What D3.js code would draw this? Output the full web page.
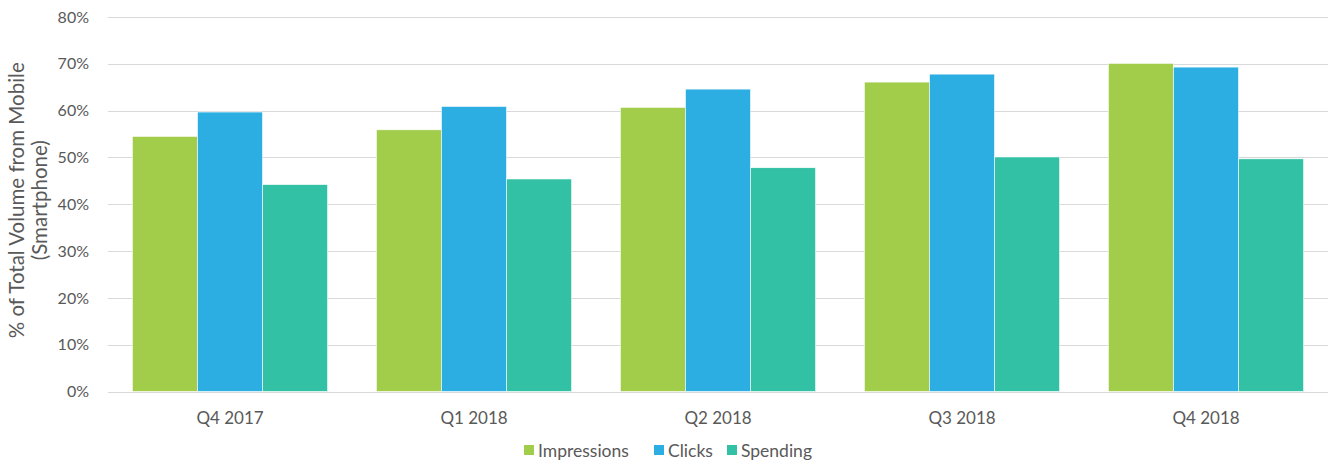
<!DOCTYPE html>
<html>
<head>
  <meta charset="utf-8">
  <script src="https://d3js.org/d3.v7.min.js"></script>
  <style>
    body { margin: 0; background: #fff; }
    * { font-family: 'Lato', sans-serif; }
    .tick text { fill: #595959; font-size: 16px; }
    .x-axis .tick text { font-size: 17px; }
  </style>
</head>
<body>
  <div id="chart"></div>
  <script>
    const quarters = ['Q4 2017', 'Q1 2018', 'Q2 2018', 'Q3 2018', 'Q4 2018'];
    const seriesNames = ['Impressions', 'Clicks', 'Spending'];
    const impressions = [0.545, 0.559, 0.607, 0.661, 0.701];
    const clicks = [0.597, 0.609, 0.646, 0.678, 0.693];
    const spending = [0.442, 0.454, 0.478, 0.501, 0.497];
    const colors = ['#a2cd4a', '#2daee2', '#32c1a4'];
    const yTicks = [0, 0.1, 0.2, 0.3, 0.4, 0.5, 0.6, 0.7, 0.8];

    const width = 1332, height = 462;
    const margin = { top: 17, right: 4, bottom: 70, left: 108 };

    const svg = d3.select('#chart').append('svg')
      .attr('width', width)
      .attr('height', height);

    const x = d3.scaleBand()
      .domain(quarters)
      .range([margin.left, width - margin.right])
      .paddingInner(0.2)
      .paddingOuter(0.1);

    const xs = d3.scaleBand()
      .domain(seriesNames)
      .range([0, x.bandwidth()]);

    const y = d3.scaleLinear()
      .domain([0, 0.8])
      .range([height - margin.bottom - 0.5, margin.top]);

    // gridlines
    svg.append('g')
      .selectAll('line')
      .data(yTicks)
      .join('line')
      .attr('x1', margin.left)
      .attr('x2', width - margin.right)
      .attr('y1', d => Math.round(y(d)) + 0.5)
      .attr('y2', d => Math.round(y(d)) + 0.5)
      .attr('stroke', '#d9d9d9')
      .attr('stroke-width', 1.2);

    const yAxis = svg.append('g')
      .attr('transform', `translate(${margin.left - 16},0)`)
      .call(d3.axisLeft(y).tickValues(yTicks).tickFormat(d3.format('.0%')).tickSize(0));
    yAxis.select('.domain').remove();

    const rows = quarters.map((q, i) => ({ q, vals: [impressions[i], clicks[i], spending[i]] }));

    svg.append('g')
      .selectAll('g')
      .data(rows)
      .join('g')
      .attr('transform', d => `translate(${x(d.q)},0)`)
      .selectAll('rect')
      .data(d => d.vals.map((v, k) => ({ k, v })))
      .join('rect')
      .attr('x', d => xs(seriesNames[d.k]))
      .attr('y', d => y(d.v))
      .attr('width', xs.bandwidth())
      .attr('height', d => y(0) - y(d.v))
      .attr('fill', d => colors[d.k])
      .attr('stroke', '#fff')
      .attr('stroke-width', 0.6);

    const xAxis = svg.append('g')
      .attr('class', 'x-axis')
      .attr('transform', `translate(0,${y(0) + 14})`)
      .call(d3.axisBottom(x).tickSize(0));
    xAxis.select('.domain').remove();
    xAxis.selectAll('text').attr('dy', '0.9em');

    // y axis title
    const title = svg.append('text')
      .attr('transform', `translate(24,${(margin.top + y(0)) / 2 - 4}) rotate(-90)`)
      .attr('text-anchor', 'middle')
      .attr('fill', '#595959')
      .style('font-size', '20.5px');
    title.append('tspan').attr('x', 0).attr('dy', 0).text('% of Total Volume from Mobile');
    title.append('tspan').attr('x', 0).attr('dy', '1.12em').text('(Smartphone)');

    // legend
    const legend = svg.append('g').attr('transform', `translate(0,457)`);
    const legendX = [524, 654, 727];
    seriesNames.forEach((s, k) => {
      legend.append('rect')
        .attr('x', legendX[k])
        .attr('y', -12)
        .attr('width', 10)
        .attr('height', 10)
        .attr('fill', colors[k]);
      legend.append('text')
        .attr('x', legendX[k] + 14)
        .attr('y', 0)
        .attr('fill', '#595959')
        .style('font-size', '17.5px')
        .text(s);
    });
  </script>
</body>
</html>
